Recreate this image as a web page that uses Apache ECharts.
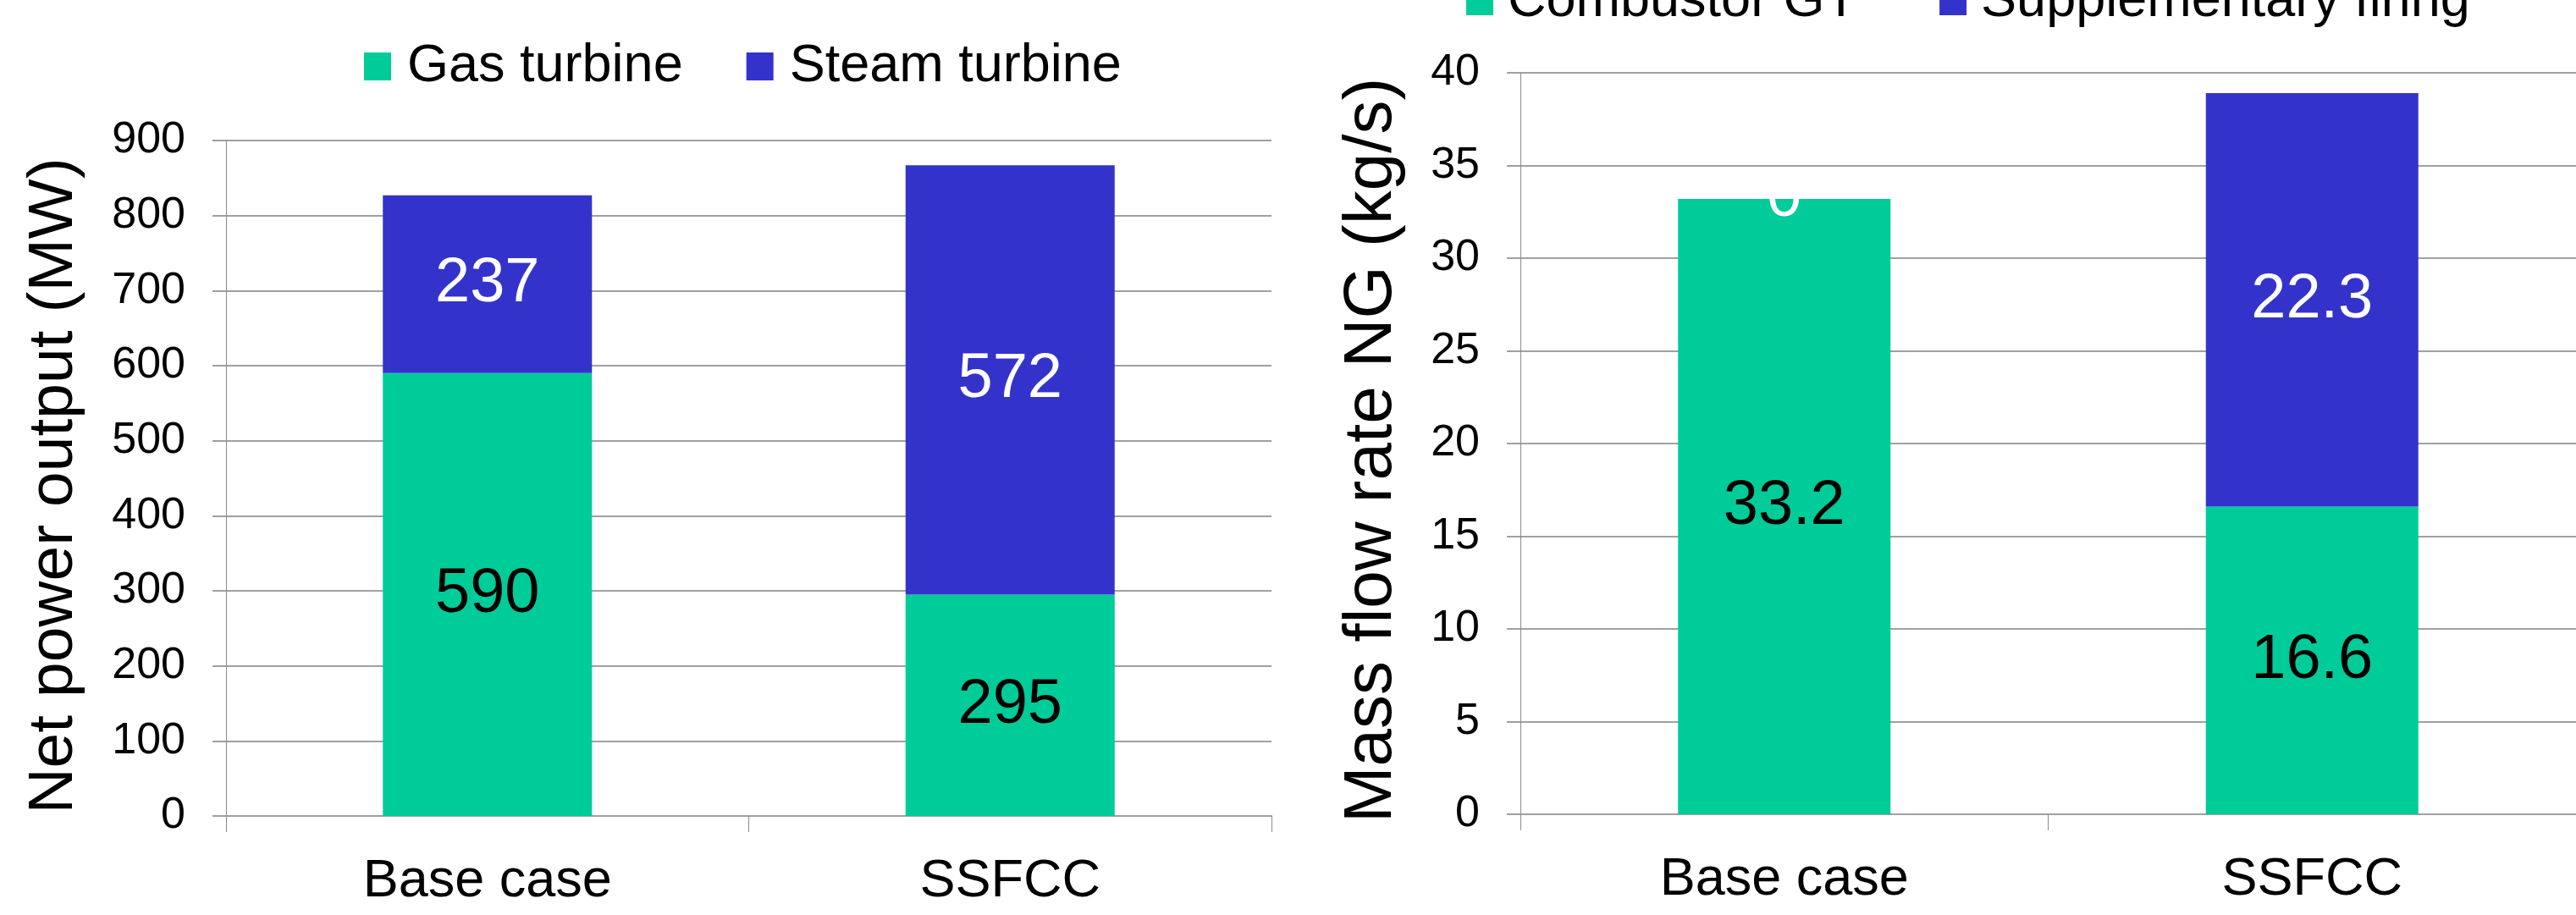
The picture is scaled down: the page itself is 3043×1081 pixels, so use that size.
<!DOCTYPE html>
<html>
<head>
<meta charset="utf-8">
<script src="https://cdn.jsdelivr.net/npm/echarts@6/dist/echarts.min.js"></script>
<style>
  html, body { margin: 0; padding: 0; background: #ffffff; }
  #chart { width: 3043px; height: 1081px; }
</style>
</head>
<body>
<div id="chart"></div>
<script>
// Categories shared by both panels
const categories = ['Base case', 'SSFCC'];

// Left panel: net power output (MW)
const gasTurbine = [590, 295];
const steamTurbine = [237, 572];
const powerAxis = { min: 0, max: 900, interval: 100 };

// Right panel: natural gas mass flow rate (kg/s)
const combustorGT = [33.2, 16.6];
const supplementaryFiring = [0, 22.3];
const flowAxis = { min: 0, max: 40, interval: 5 };

const GREEN = '#00CC99';
const BLUE = '#3333CC';
const GRID_GRAY = '#a0a0a0';
const FONT = "'Liberation Sans', Arial, Helvetica, sans-serif";

const chart = echarts.init(document.getElementById('chart'), null, { renderer: 'canvas' });

function categoryAxis(gridIndex) {
  return {
    type: 'category',
    gridIndex,
    data: categories,
    axisLine: { show: true, lineStyle: { color: GRID_GRAY, width: 2 } },
    axisTick: { show: true, length: 19, lineStyle: { color: '#8c8c8c', width: 1 } },
    axisLabel: { color: '#000', fontSize: 63, fontFamily: FONT, margin: 46 },
    splitLine: { show: false }
  };
}

function valueAxis(gridIndex, range, name, nameGap, namePad, nameSize) {
  return {
    type: 'value',
    gridIndex,
    min: range.min,
    max: range.max,
    interval: range.interval,
    name,
    nameLocation: 'middle',
    nameGap,
    nameTextStyle: { color: '#000', fontSize: nameSize, fontFamily: FONT, padding: namePad },
    axisLine: { show: true, lineStyle: { color: '#8c8c8c', width: 1 } },
    axisTick: { show: true, length: 16, lineStyle: { color: GRID_GRAY, width: 2 } },
    axisLabel: { color: '#000', fontSize: 52, fontFamily: FONT, margin: 48 },
    splitLine: { show: true, lineStyle: { color: GRID_GRAY, width: 2 } }
  };
}

function barSeries(name, data, axisIndex, stack, color, labelColor, width) {
  return {
    name,
    type: 'bar',
    xAxisIndex: axisIndex,
    yAxisIndex: axisIndex,
    stack,
    data,
    barWidth: width,
    itemStyle: { color },
    label: {
      show: true,
      position: 'inside',
      color: labelColor,
      fontSize: 74,
      fontFamily: FONT,
      textBorderWidth: 0
    },
    emphasis: { disabled: true }
  };
}

const legendText = (pad) => ({ color: '#000', fontSize: 63, fontFamily: FONT, padding: [0, 0, 0, pad] });

chart.setOption({
  animation: false,
  backgroundColor: '#ffffff',
  legend: [
    {
      data: ['Gas turbine', 'Steam turbine'],
      left: 430, top: 47, padding: 0,
      itemWidth: 32, itemHeight: 33, itemGap: 75,
      icon: 'rect',
      textStyle: legendText(14),
      selectedMode: false
    },
    {
      data: ['Combustor GT', 'Supplementary firing'],
      left: 1732, top: -30, padding: 0,
      itemWidth: 32, itemHeight: 33, itemGap: 97,
      icon: 'rect',
      textStyle: legendText(12),
      selectedMode: false
    }
  ],
  grid: [
    { left: 267, right: 3043 - 1502, top: 166, bottom: 1081 - 964, containLabel: false },
    { left: 1796, right: -7, top: 86, bottom: 1081 - 962, containLabel: false }
  ],
  xAxis: [categoryAxis(0), categoryAxis(1)],
  yAxis: [
    valueAxis(0, powerAxis, 'Net power output (MW)', 165, [0, 18, 0, 0], 75),
    valueAxis(1, flowAxis, 'Mass flow rate NG (kg/s)', 135, [0, 16, 0, 0], 80)
  ],
  series: [
    barSeries('Gas turbine', gasTurbine, 0, 'power', GREEN, '#000', 247),
    barSeries('Steam turbine', steamTurbine, 0, 'power', BLUE, '#fff', 247),
    barSeries('Combustor GT', combustorGT, 1, 'fuel', GREEN, '#000', 251),
    barSeries('Supplementary firing', supplementaryFiring, 1, 'fuel', BLUE, '#fff', 251)
  ]
});
</script>
</body>
</html>
